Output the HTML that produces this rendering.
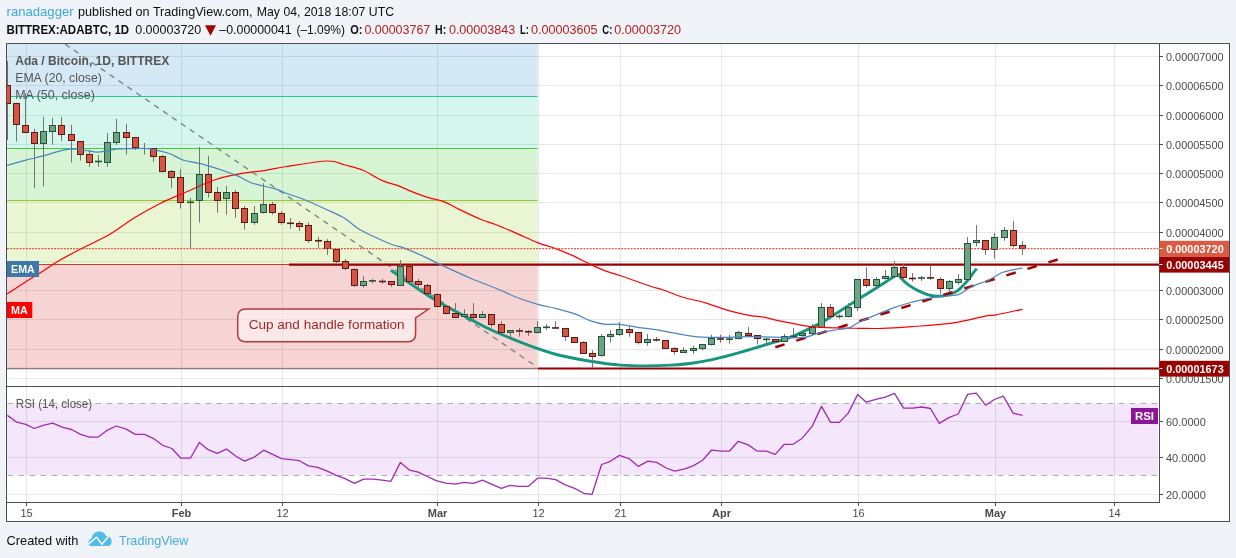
<!DOCTYPE html><html><head><meta charset="utf-8"><title>ADABTC chart</title><style>html,body{margin:0;padding:0;background:#f0f3f7;}svg{display:block}text{font-family:"Liberation Sans", Arial, sans-serif;}</style></head><body>
<svg width="1236" height="558" viewBox="0 0 1236 558">
<rect x="0" y="0" width="1236" height="558" fill="#f0f3f7"/>
<text x="6.6" y="15.7" font-size="13.3" fill="#3ca6df" font-weight="normal" text-anchor="start" textLength="67.0" lengthAdjust="spacingAndGlyphs">ranadagger</text>
<text x="78.1" y="15.7" font-size="13.3" fill="#0e0e0e" font-weight="normal" text-anchor="start" textLength="174.3" lengthAdjust="spacingAndGlyphs">published on TradingView.com,</text>
<text x="256.8" y="15.7" font-size="13.0" fill="#0e0e0e" font-weight="normal" text-anchor="start" textLength="137.2" lengthAdjust="spacingAndGlyphs">May 04, 2018 18:07 UTC</text>
<text x="6.6" y="33.7" font-size="12.4" fill="#0e0e0e" font-weight="bold" text-anchor="start" textLength="122.5" lengthAdjust="spacingAndGlyphs">BITTREX:ADABTC, 1D</text>
<text x="135.2" y="33.7" font-size="12.6" fill="#0e0e0e" font-weight="normal" text-anchor="start" textLength="66.1" lengthAdjust="spacingAndGlyphs">0.00003720</text>
<polygon points="205,25.2 216,25.2 210.5,35.8" fill="#a30000"/>
<text x="219.3" y="33.7" font-size="12.6" fill="#0e0e0e" font-weight="normal" text-anchor="start" textLength="72.3" lengthAdjust="spacingAndGlyphs">–0.00000041</text>
<text x="296.4" y="33.7" font-size="12.6" fill="#0e0e0e" font-weight="normal" text-anchor="start" textLength="48.6" lengthAdjust="spacingAndGlyphs">(–1.09%)</text>
<text x="350.2" y="33.7" font-size="12.4" fill="#0e0e0e" font-weight="bold" text-anchor="start" textLength="12.2" lengthAdjust="spacingAndGlyphs">O:</text>
<text x="364.4" y="33.7" font-size="12.6" fill="#b3221f" font-weight="normal" text-anchor="start" textLength="65.9" lengthAdjust="spacingAndGlyphs">0.00003767</text>
<text x="435.1" y="33.7" font-size="12.4" fill="#0e0e0e" font-weight="bold" text-anchor="start" textLength="11.2" lengthAdjust="spacingAndGlyphs">H:</text>
<text x="448.9" y="33.7" font-size="12.6" fill="#b3221f" font-weight="normal" text-anchor="start" textLength="66.4" lengthAdjust="spacingAndGlyphs">0.00003843</text>
<text x="520.1" y="33.7" font-size="12.4" fill="#0e0e0e" font-weight="bold" text-anchor="start" textLength="8.8" lengthAdjust="spacingAndGlyphs">L:</text>
<text x="531.1" y="33.7" font-size="12.6" fill="#b3221f" font-weight="normal" text-anchor="start" textLength="66.4" lengthAdjust="spacingAndGlyphs">0.00003605</text>
<text x="602.3" y="33.7" font-size="12.4" fill="#0e0e0e" font-weight="bold" text-anchor="start" textLength="10.1" lengthAdjust="spacingAndGlyphs">C:</text>
<text x="614.3" y="33.7" font-size="12.6" fill="#b3221f" font-weight="normal" text-anchor="start" textLength="66.7" lengthAdjust="spacingAndGlyphs">0.00003720</text>
<rect x="5.5" y="42.5" width="1225" height="480" fill="none" stroke="rgba(255,255,255,0.45)" stroke-width="1"/>
<rect x="6" y="43" width="1224" height="479" fill="#ffffff"/>
<defs><clipPath id="pp"><rect x="7" y="44" width="1152" height="342"/></clipPath><clipPath id="rp"><rect x="7" y="387" width="1152" height="115"/></clipPath></defs>
<path d="M26.5,44V386M26.5,387V502M181.5,44V386M181.5,387V502M282.5,44V386M282.5,387V502M437.5,44V386M437.5,387V502M538.5,44V386M538.5,387V502M620.5,44V386M620.5,387V502M721.5,44V386M721.5,387V502M858.5,44V386M858.5,387V502M995.5,44V386M995.5,387V502M1114.5,44V386M1114.5,387V502M7,378.5H1159M7,349.5H1159M7,319.5H1159M7,290.5H1159M7,261.5H1159M7,232.5H1159M7,202.5H1159M7,173.5H1159M7,144.5H1159M7,115.5H1159M7,85.5H1159M7,56.5H1159M7,494.5H1159M7,457.5H1159M7,421.5H1159" stroke="#e6e6e6" stroke-width="1" fill="none"/>
<g clip-path="url(#pp)">
<rect x="7" y="20" width="530.6" height="76.5" fill="rgba(40,145,205,0.20)"/>
<rect x="7" y="96.5" width="530.6" height="51.900000000000006" fill="rgba(28,206,154,0.19)"/>
<rect x="7" y="148.4" width="530.6" height="52.0" fill="rgba(53,204,40,0.20)"/>
<rect x="7" y="200.4" width="530.6" height="63.79999999999998" fill="rgba(149,204,40,0.20)"/>
<rect x="7" y="264.2" width="530.6" height="103.30000000000001" fill="rgba(214,60,60,0.22)"/>
<path d="M7,96.5H537.6" stroke="#2ec39a" stroke-width="1"/>
<path d="M7,148.5H537.6" stroke="#3ccc3c" stroke-width="1"/>
<path d="M7,200.5H537.6" stroke="#8fcc2a" stroke-width="1"/>
<path d="M7,264.5H537.6" stroke="#cc3a2a" stroke-width="1"/>
<path d="M7,368.5H538" stroke="#d06060" stroke-width="1.7"/>
<path d="M7,368.5H538" stroke="#808080" stroke-width="1"/>
<path d="M65,44L537,367" stroke="#7d7d7d" stroke-width="1.3" stroke-dasharray="5.6,5.2" fill="none"/>
</g>
<g clip-path="url(#pp)">
<path d="M289,264.6H1159" stroke="#9b0000" stroke-width="2.2"/>
<path d="M538,368.6H1159" stroke="#9b0000" stroke-width="2"/>
</g>
<path d="M245.7,309.1H428.7L415.6,318V333.8Q415.6,341.8 407.6,341.8H245.7Q237.7,341.8 237.7,333.8V317.1Q237.7,309.1 245.7,309.1Z" fill="rgba(255,248,248,0.55)" stroke="#b23c3c" stroke-width="1.5"/>
<text x="248.7" y="328.7" font-size="13.5" fill="#a32a2a" font-weight="normal" text-anchor="start" textLength="155.9" lengthAdjust="spacingAndGlyphs">Cup and handle formation</text>
<g clip-path="url(#pp)">
<path d="M391,270.2C393.6,272.0 401.7,277.8 406.5,281.1C411.3,284.4 415.5,287.2 420.0,290.2C424.5,293.1 429.2,296.2 433.4,298.8C437.6,301.4 440.7,303.3 445.2,305.8C449.7,308.3 453.6,310.4 460.3,313.9C467.0,317.4 477.2,323.1 485.1,327.0C493.0,330.9 498.9,333.4 507.7,337.0C516.5,340.6 529.0,345.5 537.8,348.6C546.6,351.7 551.6,353.4 560.4,355.5C569.2,357.6 580.5,359.6 590.5,361.2C600.5,362.8 611.4,364.3 620.7,365.1C630.1,365.9 638.2,365.9 646.6,365.9C655.0,365.9 662.8,365.6 670.9,365.1C679.0,364.6 687.1,363.9 695.2,362.7C703.3,361.5 711.3,359.7 719.4,357.8C727.5,355.9 735.6,353.6 743.7,351.3C751.8,349.0 762.1,345.8 768.0,344.0C773.9,342.2 775.2,342.1 779.3,340.8C783.4,339.6 786.2,339.1 792.4,336.5C798.6,333.9 811.3,327.7 816.6,325.1C821.9,322.5 818.3,324.6 824.3,320.9C830.2,317.2 844.9,307.8 852.3,303.1C859.6,298.4 863.0,296.3 868.4,292.9C873.8,289.5 879.5,285.9 884.5,282.7C889.5,279.5 896.2,275.3 898.5,273.8" fill="none" stroke="#15967e" stroke-width="2.9" stroke-linecap="butt"/>
<path d="M898.5,273.4C898.9,274.2 899.4,276.4 901.1,278.3C902.8,280.2 905.9,283.0 908.8,285.1C911.7,287.2 915.2,289.3 918.5,290.9C921.8,292.5 925.0,293.9 928.3,294.8C931.5,295.7 934.8,296.3 938.0,296.3C941.2,296.3 944.5,295.7 947.7,294.8C950.9,293.9 954.2,293.2 957.4,290.9C960.6,288.6 964.5,284.1 967.1,281.2C969.7,278.3 971.3,275.5 972.9,273.4C974.5,271.3 976.1,269.4 976.8,268.6" fill="none" stroke="#15967e" stroke-width="2.9" stroke-linecap="butt"/>
<path d="M775.3,347.2L1057.9,259.4" stroke="#a30000" stroke-width="2.5" stroke-dasharray="9.7,12.3" fill="none"/>
</g>
<g clip-path="url(#pp)">
<path d="M7.5,61.0V140.0" stroke="#737375" stroke-width="1"/>
<path d="M16.5,102.6V141.7" stroke="#737375" stroke-width="1"/>
<path d="M25.5,93.5V133.4" stroke="#737375" stroke-width="1"/>
<path d="M34.5,128.9V188.0" stroke="#737375" stroke-width="1"/>
<path d="M43.5,116.9V186.5" stroke="#737375" stroke-width="1"/>
<path d="M52.5,117.9V144.7" stroke="#737375" stroke-width="1"/>
<path d="M61.5,116.9V140.9" stroke="#737375" stroke-width="1"/>
<path d="M71.5,124.8V162.5" stroke="#737375" stroke-width="1"/>
<path d="M80.5,141.4V160.5" stroke="#737375" stroke-width="1"/>
<path d="M89.5,150.0V166.8" stroke="#737375" stroke-width="1"/>
<path d="M98.5,155.0V166.8" stroke="#737375" stroke-width="1"/>
<path d="M107.5,133.0V166.8" stroke="#737375" stroke-width="1"/>
<path d="M116.5,118.8V145.0" stroke="#737375" stroke-width="1"/>
<path d="M126.5,123.9V154.7" stroke="#737375" stroke-width="1"/>
<path d="M135.5,137.2V150.0" stroke="#737375" stroke-width="1"/>
<path d="M144.5,143.0V154.6" stroke="#737375" stroke-width="1"/>
<path d="M153.5,148.4V161.9" stroke="#737375" stroke-width="1"/>
<path d="M162.5,155.0V172.4" stroke="#737375" stroke-width="1"/>
<path d="M171.5,170.1V187.9" stroke="#737375" stroke-width="1"/>
<path d="M180.5,169.3V208.5" stroke="#737375" stroke-width="1"/>
<path d="M190.5,198.0V248.2" stroke="#737375" stroke-width="1"/>
<path d="M199.5,146.8V222.6" stroke="#737375" stroke-width="1"/>
<path d="M208.5,155.8V197.6" stroke="#737375" stroke-width="1"/>
<path d="M217.5,187.0V212.8" stroke="#737375" stroke-width="1"/>
<path d="M226.5,185.9V214.7" stroke="#737375" stroke-width="1"/>
<path d="M235.5,190.1V217.9" stroke="#737375" stroke-width="1"/>
<path d="M244.5,206.1V229.6" stroke="#737375" stroke-width="1"/>
<path d="M254.5,206.0V224.8" stroke="#737375" stroke-width="1"/>
<path d="M263.5,183.3V213.7" stroke="#737375" stroke-width="1"/>
<path d="M272.5,202.0V214.7" stroke="#737375" stroke-width="1"/>
<path d="M281.5,211.1V224.8" stroke="#737375" stroke-width="1"/>
<path d="M290.5,218.0V228.9" stroke="#737375" stroke-width="1"/>
<path d="M299.5,221.0V230.9" stroke="#737375" stroke-width="1"/>
<path d="M308.5,222.3V242.9" stroke="#737375" stroke-width="1"/>
<path d="M318.5,236.9V247.9" stroke="#737375" stroke-width="1"/>
<path d="M327.5,239.2V254.9" stroke="#737375" stroke-width="1"/>
<path d="M336.5,249.3V262.9" stroke="#737375" stroke-width="1"/>
<path d="M345.5,259.0V270.3" stroke="#737375" stroke-width="1"/>
<path d="M354.5,268.4V286.9" stroke="#737375" stroke-width="1"/>
<path d="M363.5,275.9V287.6" stroke="#737375" stroke-width="1"/>
<path d="M372.5,278.9V283.4" stroke="#737375" stroke-width="1"/>
<path d="M382.5,278.9V283.9" stroke="#737375" stroke-width="1"/>
<path d="M391.5,281.2V286.9" stroke="#737375" stroke-width="1"/>
<path d="M400.5,260.1V285.7" stroke="#737375" stroke-width="1"/>
<path d="M409.5,266.1V281.5" stroke="#737375" stroke-width="1"/>
<path d="M418.5,278.9V289.4" stroke="#737375" stroke-width="1"/>
<path d="M427.5,283.9V294.4" stroke="#737375" stroke-width="1"/>
<path d="M437.5,293.2V307.5" stroke="#737375" stroke-width="1"/>
<path d="M446.5,306.4V314.5" stroke="#737375" stroke-width="1"/>
<path d="M455.5,303.1V317.5" stroke="#737375" stroke-width="1"/>
<path d="M464.5,309.1V317.3" stroke="#737375" stroke-width="1"/>
<path d="M473.5,303.1V319.3" stroke="#737375" stroke-width="1"/>
<path d="M482.5,311.0V317.5" stroke="#737375" stroke-width="1"/>
<path d="M491.5,314.1V327.3" stroke="#737375" stroke-width="1"/>
<path d="M501.5,321.2V332.6" stroke="#737375" stroke-width="1"/>
<path d="M510.5,330.2V337.4" stroke="#737375" stroke-width="1"/>
<path d="M519.5,328.1V336.7" stroke="#737375" stroke-width="1"/>
<path d="M528.5,329.9V335.9" stroke="#737375" stroke-width="1"/>
<path d="M537.5,321.2V333.6" stroke="#737375" stroke-width="1"/>
<path d="M546.5,324.2V329.9" stroke="#737375" stroke-width="1"/>
<path d="M555.5,321.2V328.7" stroke="#737375" stroke-width="1"/>
<path d="M565.5,328.1V340.9" stroke="#737375" stroke-width="1"/>
<path d="M574.5,337.4V342.7" stroke="#737375" stroke-width="1"/>
<path d="M583.5,341.2V353.5" stroke="#737375" stroke-width="1"/>
<path d="M592.5,350.2V368.0" stroke="#737375" stroke-width="1"/>
<path d="M601.5,334.1V356.4" stroke="#737375" stroke-width="1"/>
<path d="M610.5,330.2V342.7" stroke="#737375" stroke-width="1"/>
<path d="M619.5,322.1V335.6" stroke="#737375" stroke-width="1"/>
<path d="M629.5,325.7V336.7" stroke="#737375" stroke-width="1"/>
<path d="M638.5,332.4V344.5" stroke="#737375" stroke-width="1"/>
<path d="M647.5,334.1V345.7" stroke="#737375" stroke-width="1"/>
<path d="M656.5,337.1V341.5" stroke="#737375" stroke-width="1"/>
<path d="M665.5,340.4V348.7" stroke="#737375" stroke-width="1"/>
<path d="M674.5,347.2V354.7" stroke="#737375" stroke-width="1"/>
<path d="M683.5,347.2V352.5" stroke="#737375" stroke-width="1"/>
<path d="M693.5,346.0V353.7" stroke="#737375" stroke-width="1"/>
<path d="M702.5,344.2V350.6" stroke="#737375" stroke-width="1"/>
<path d="M711.5,334.8V345.7" stroke="#737375" stroke-width="1"/>
<path d="M720.5,334.8V342.7" stroke="#737375" stroke-width="1"/>
<path d="M729.5,334.8V343.7" stroke="#737375" stroke-width="1"/>
<path d="M738.5,330.9V339.4" stroke="#737375" stroke-width="1"/>
<path d="M748.5,326.9V337.4" stroke="#737375" stroke-width="1"/>
<path d="M757.5,335.1V344.5" stroke="#737375" stroke-width="1"/>
<path d="M766.5,337.1V343.7" stroke="#737375" stroke-width="1"/>
<path d="M775.5,339.2V341.7" stroke="#737375" stroke-width="1"/>
<path d="M784.5,334.0V341.7" stroke="#737375" stroke-width="1"/>
<path d="M793.5,327.9V338.8" stroke="#737375" stroke-width="1"/>
<path d="M802.5,331.1V336.8" stroke="#737375" stroke-width="1"/>
<path d="M812.5,324.0V335.6" stroke="#737375" stroke-width="1"/>
<path d="M821.5,303.1V327.5" stroke="#737375" stroke-width="1"/>
<path d="M830.5,304.0V317.4" stroke="#737375" stroke-width="1"/>
<path d="M839.5,314.2V318.8" stroke="#737375" stroke-width="1"/>
<path d="M848.5,303.1V317.4" stroke="#737375" stroke-width="1"/>
<path d="M857.5,279.3V310.8" stroke="#737375" stroke-width="1"/>
<path d="M866.5,267.3V287.6" stroke="#737375" stroke-width="1"/>
<path d="M876.5,277.1V287.0" stroke="#737375" stroke-width="1"/>
<path d="M885.5,270.0V279.4" stroke="#737375" stroke-width="1"/>
<path d="M894.5,261.0V276.5" stroke="#737375" stroke-width="1"/>
<path d="M903.5,263.2V282.6" stroke="#737375" stroke-width="1"/>
<path d="M912.5,273.0V281.7" stroke="#737375" stroke-width="1"/>
<path d="M921.5,275.9V280.8" stroke="#737375" stroke-width="1"/>
<path d="M930.5,265.9V279.8" stroke="#737375" stroke-width="1"/>
<path d="M940.5,277.1V293.8" stroke="#737375" stroke-width="1"/>
<path d="M949.5,279.9V292.2" stroke="#737375" stroke-width="1"/>
<path d="M958.5,274.1V284.6" stroke="#737375" stroke-width="1"/>
<path d="M967.5,237.1V279.5" stroke="#737375" stroke-width="1"/>
<path d="M976.5,225.0V246.4" stroke="#737375" stroke-width="1"/>
<path d="M985.5,240.1V254.8" stroke="#737375" stroke-width="1"/>
<path d="M994.5,233.0V258.6" stroke="#737375" stroke-width="1"/>
<path d="M1004.5,227.0V240.9" stroke="#737375" stroke-width="1"/>
<path d="M1013.5,221.0V247.3" stroke="#737375" stroke-width="1"/>
<path d="M1022.5,241.2V254.8" stroke="#737375" stroke-width="1"/>
<rect x="4.5" y="85.5" width="6" height="18" fill="#d75442" stroke="#5b1a13" stroke-width="1"/>
<rect x="13.5" y="103.5" width="6" height="21" fill="#d75442" stroke="#5b1a13" stroke-width="1"/>
<rect x="22.5" y="125.5" width="6" height="7" fill="#d75442" stroke="#5b1a13" stroke-width="1"/>
<rect x="31.5" y="132.5" width="6" height="11" fill="#d75442" stroke="#5b1a13" stroke-width="1"/>
<rect x="40.5" y="131.5" width="6" height="12" fill="#6ba583" stroke="#225437" stroke-width="1"/>
<rect x="49.5" y="125.5" width="6" height="6" fill="#6ba583" stroke="#225437" stroke-width="1"/>
<rect x="58.5" y="125.5" width="6" height="9" fill="#d75442" stroke="#5b1a13" stroke-width="1"/>
<rect x="68.5" y="134.5" width="6" height="6" fill="#d75442" stroke="#5b1a13" stroke-width="1"/>
<rect x="77.5" y="141.5" width="6" height="13" fill="#d75442" stroke="#5b1a13" stroke-width="1"/>
<rect x="86.5" y="154.5" width="6" height="8" fill="#d75442" stroke="#5b1a13" stroke-width="1"/>
<rect x="95" y="160.70" width="7" height="1.60" fill="#225437"/>
<rect x="104.5" y="142.5" width="6" height="20" fill="#6ba583" stroke="#225437" stroke-width="1"/>
<rect x="113.5" y="132.5" width="6" height="10" fill="#6ba583" stroke="#225437" stroke-width="1"/>
<rect x="123.5" y="132.5" width="6" height="5" fill="#d75442" stroke="#5b1a13" stroke-width="1"/>
<rect x="132.5" y="137.5" width="6" height="10" fill="#d75442" stroke="#5b1a13" stroke-width="1"/>
<rect x="150.5" y="148.5" width="6" height="8" fill="#d75442" stroke="#5b1a13" stroke-width="1"/>
<rect x="159.5" y="156.5" width="6" height="15" fill="#d75442" stroke="#5b1a13" stroke-width="1"/>
<rect x="168.5" y="171.5" width="6" height="6" fill="#d75442" stroke="#5b1a13" stroke-width="1"/>
<rect x="177.5" y="177.5" width="6" height="25" fill="#d75442" stroke="#5b1a13" stroke-width="1"/>
<rect x="187" y="201.50" width="7" height="1.60" fill="#225437"/>
<rect x="196.5" y="174.5" width="6" height="26" fill="#6ba583" stroke="#225437" stroke-width="1"/>
<rect x="205.5" y="174.5" width="6" height="18" fill="#d75442" stroke="#5b1a13" stroke-width="1"/>
<rect x="214.5" y="192.5" width="6" height="8" fill="#d75442" stroke="#5b1a13" stroke-width="1"/>
<rect x="223.5" y="192.5" width="6" height="6" fill="#6ba583" stroke="#225437" stroke-width="1"/>
<rect x="232.5" y="192.5" width="6" height="16" fill="#d75442" stroke="#5b1a13" stroke-width="1"/>
<rect x="241.5" y="208.5" width="6" height="14" fill="#d75442" stroke="#5b1a13" stroke-width="1"/>
<rect x="251.5" y="213.5" width="6" height="9" fill="#6ba583" stroke="#225437" stroke-width="1"/>
<rect x="260.5" y="204.5" width="6" height="8" fill="#6ba583" stroke="#225437" stroke-width="1"/>
<rect x="269.5" y="204.5" width="6" height="8" fill="#d75442" stroke="#5b1a13" stroke-width="1"/>
<rect x="278.5" y="213.5" width="6" height="9" fill="#d75442" stroke="#5b1a13" stroke-width="1"/>
<rect x="287" y="222.50" width="7" height="1.60" fill="#5b1a13"/>
<rect x="296.5" y="223.5" width="6" height="3" fill="#d75442" stroke="#5b1a13" stroke-width="1"/>
<rect x="305.5" y="225.5" width="6" height="15" fill="#d75442" stroke="#5b1a13" stroke-width="1"/>
<rect x="315" y="239.95" width="7" height="1.60" fill="#5b1a13"/>
<rect x="324.5" y="241.5" width="6" height="7" fill="#d75442" stroke="#5b1a13" stroke-width="1"/>
<rect x="333.5" y="249.5" width="6" height="12" fill="#d75442" stroke="#5b1a13" stroke-width="1"/>
<rect x="342.5" y="261.5" width="6" height="7" fill="#d75442" stroke="#5b1a13" stroke-width="1"/>
<rect x="351.5" y="269.5" width="6" height="16" fill="#d75442" stroke="#5b1a13" stroke-width="1"/>
<rect x="360.5" y="281.5" width="6" height="4" fill="#6ba583" stroke="#225437" stroke-width="1"/>
<rect x="369" y="280.05" width="7" height="1.60" fill="#225437"/>
<rect x="379" y="280.70" width="7" height="1.60" fill="#5b1a13"/>
<rect x="388.5" y="281.5" width="6" height="3" fill="#d75442" stroke="#5b1a13" stroke-width="1"/>
<rect x="397.5" y="266.5" width="6" height="19" fill="#6ba583" stroke="#225437" stroke-width="1"/>
<rect x="406.5" y="266.5" width="6" height="15" fill="#d75442" stroke="#5b1a13" stroke-width="1"/>
<rect x="415.5" y="281.5" width="6" height="3" fill="#d75442" stroke="#5b1a13" stroke-width="1"/>
<rect x="424.5" y="285.5" width="6" height="8" fill="#d75442" stroke="#5b1a13" stroke-width="1"/>
<rect x="434.5" y="294.5" width="6" height="12" fill="#d75442" stroke="#5b1a13" stroke-width="1"/>
<rect x="443.5" y="306.5" width="6" height="7" fill="#d75442" stroke="#5b1a13" stroke-width="1"/>
<rect x="452.5" y="313.5" width="6" height="4" fill="#d75442" stroke="#5b1a13" stroke-width="1"/>
<rect x="461.5" y="314.5" width="6" height="2" fill="#6ba583" stroke="#225437" stroke-width="1"/>
<rect x="470.5" y="314.5" width="6" height="3" fill="#d75442" stroke="#5b1a13" stroke-width="1"/>
<rect x="479.5" y="314.5" width="6" height="3" fill="#6ba583" stroke="#225437" stroke-width="1"/>
<rect x="488.5" y="314.5" width="6" height="10" fill="#d75442" stroke="#5b1a13" stroke-width="1"/>
<rect x="498.5" y="324.5" width="6" height="8" fill="#d75442" stroke="#5b1a13" stroke-width="1"/>
<rect x="507.5" y="330.5" width="6" height="2" fill="#6ba583" stroke="#225437" stroke-width="1"/>
<rect x="516" y="330.15" width="7" height="1.60" fill="#5b1a13"/>
<rect x="525" y="330.90" width="7" height="1.70" fill="#5b1a13"/>
<rect x="534.5" y="327.5" width="6" height="5" fill="#6ba583" stroke="#225437" stroke-width="1"/>
<rect x="543" y="326.50" width="7" height="1.60" fill="#225437"/>
<rect x="552" y="327.15" width="7" height="1.60" fill="#5b1a13"/>
<rect x="562.5" y="328.5" width="6" height="8" fill="#d75442" stroke="#5b1a13" stroke-width="1"/>
<rect x="571.5" y="337.5" width="6" height="5" fill="#d75442" stroke="#5b1a13" stroke-width="1"/>
<rect x="580.5" y="342.5" width="6" height="11" fill="#d75442" stroke="#5b1a13" stroke-width="1"/>
<rect x="589.5" y="353.5" width="6" height="3" fill="#d75442" stroke="#5b1a13" stroke-width="1"/>
<rect x="598.5" y="336.5" width="6" height="19" fill="#6ba583" stroke="#225437" stroke-width="1"/>
<rect x="607.5" y="334.5" width="6" height="2" fill="#6ba583" stroke="#225437" stroke-width="1"/>
<rect x="616.5" y="329.5" width="6" height="5" fill="#6ba583" stroke="#225437" stroke-width="1"/>
<rect x="626.5" y="329.5" width="6" height="3" fill="#d75442" stroke="#5b1a13" stroke-width="1"/>
<rect x="635.5" y="332.5" width="6" height="10" fill="#d75442" stroke="#5b1a13" stroke-width="1"/>
<rect x="644.5" y="339.5" width="6" height="3" fill="#6ba583" stroke="#225437" stroke-width="1"/>
<rect x="653" y="339.15" width="7" height="1.60" fill="#5b1a13"/>
<rect x="662.5" y="340.5" width="6" height="8" fill="#d75442" stroke="#5b1a13" stroke-width="1"/>
<rect x="671.5" y="348.5" width="6" height="3" fill="#d75442" stroke="#5b1a13" stroke-width="1"/>
<rect x="680.5" y="350.5" width="6" height="2" fill="#6ba583" stroke="#225437" stroke-width="1"/>
<rect x="690.5" y="348.5" width="6" height="2" fill="#6ba583" stroke="#225437" stroke-width="1"/>
<rect x="699.5" y="344.5" width="6" height="4" fill="#6ba583" stroke="#225437" stroke-width="1"/>
<rect x="708.5" y="338.5" width="6" height="6" fill="#6ba583" stroke="#225437" stroke-width="1"/>
<rect x="717" y="338.15" width="7" height="1.60" fill="#5b1a13"/>
<rect x="726" y="338.40" width="7" height="1.60" fill="#225437"/>
<rect x="735.5" y="332.5" width="6" height="6" fill="#6ba583" stroke="#225437" stroke-width="1"/>
<rect x="745.5" y="333.5" width="6" height="2" fill="#d75442" stroke="#5b1a13" stroke-width="1"/>
<rect x="754.5" y="335.5" width="6" height="3" fill="#d75442" stroke="#5b1a13" stroke-width="1"/>
<rect x="763" y="338.60" width="7" height="1.60" fill="#225437"/>
<rect x="772.5" y="339.5" width="6" height="2" fill="#d75442" stroke="#5b1a13" stroke-width="1"/>
<rect x="781.5" y="336.5" width="6" height="5" fill="#6ba583" stroke="#225437" stroke-width="1"/>
<rect x="790" y="335.60" width="7" height="1.60" fill="#225437"/>
<rect x="799.5" y="333.5" width="6" height="2" fill="#6ba583" stroke="#225437" stroke-width="1"/>
<rect x="809.5" y="327.5" width="6" height="6" fill="#6ba583" stroke="#225437" stroke-width="1"/>
<rect x="818.5" y="307.5" width="6" height="20" fill="#6ba583" stroke="#225437" stroke-width="1"/>
<rect x="827.5" y="307.5" width="6" height="9" fill="#d75442" stroke="#5b1a13" stroke-width="1"/>
<rect x="836" y="315.60" width="7" height="1.60" fill="#225437"/>
<rect x="845.5" y="307.5" width="6" height="9" fill="#6ba583" stroke="#225437" stroke-width="1"/>
<rect x="854.5" y="279.5" width="6" height="28" fill="#6ba583" stroke="#225437" stroke-width="1"/>
<rect x="863.5" y="279.5" width="6" height="6" fill="#d75442" stroke="#5b1a13" stroke-width="1"/>
<rect x="873.5" y="279.5" width="6" height="6" fill="#6ba583" stroke="#225437" stroke-width="1"/>
<rect x="882.5" y="276.5" width="6" height="2" fill="#6ba583" stroke="#225437" stroke-width="1"/>
<rect x="891.5" y="267.5" width="6" height="9" fill="#6ba583" stroke="#225437" stroke-width="1"/>
<rect x="900.5" y="267.5" width="6" height="10" fill="#d75442" stroke="#5b1a13" stroke-width="1"/>
<rect x="909" y="277.70" width="7" height="1.60" fill="#5b1a13"/>
<rect x="918" y="277.20" width="7" height="1.60" fill="#225437"/>
<rect x="927" y="277.10" width="7" height="1.60" fill="#5b1a13"/>
<rect x="937.5" y="279.5" width="6" height="9" fill="#d75442" stroke="#5b1a13" stroke-width="1"/>
<rect x="946.5" y="281.5" width="6" height="7" fill="#6ba583" stroke="#225437" stroke-width="1"/>
<rect x="955.5" y="279.5" width="6" height="3" fill="#6ba583" stroke="#225437" stroke-width="1"/>
<rect x="964.5" y="243.5" width="6" height="36" fill="#6ba583" stroke="#225437" stroke-width="1"/>
<rect x="973.5" y="240.5" width="6" height="2" fill="#6ba583" stroke="#225437" stroke-width="1"/>
<rect x="982.5" y="240.5" width="6" height="9" fill="#d75442" stroke="#5b1a13" stroke-width="1"/>
<rect x="991.5" y="237.5" width="6" height="12" fill="#6ba583" stroke="#225437" stroke-width="1"/>
<rect x="1001.5" y="230.5" width="6" height="7" fill="#6ba583" stroke="#225437" stroke-width="1"/>
<rect x="1010.5" y="230.5" width="6" height="15" fill="#d75442" stroke="#5b1a13" stroke-width="1"/>
<rect x="1019.5" y="245.5" width="6" height="3" fill="#d75442" stroke="#5b1a13" stroke-width="1"/>
</g>
<g clip-path="url(#pp)">
<path d="M7.2,294C10.2,292.0 19.6,285.7 25.1,282.2C30.6,278.7 34.1,276.7 40.0,273.0C45.9,269.3 53.0,264.2 60.2,260.0C67.4,255.8 75.1,251.9 83.2,247.7C91.3,243.5 100.4,239.8 109.0,234.8C117.6,229.8 126.2,222.9 134.8,217.6C143.4,212.3 152.5,207.3 160.6,203.2C168.7,199.1 174.4,197.1 183.5,193.2C192.6,189.3 205.0,183.0 215.1,179.7C225.2,176.3 235.7,174.6 243.8,173.1C252.0,171.6 256.8,171.7 264.0,170.6C271.2,169.5 276.3,168.1 286.8,166.5C297.3,164.9 317.3,161.2 327.0,161.0C336.7,160.8 339.0,163.4 345.0,165.0C351.0,166.6 357.1,167.8 363.1,170.3C369.1,172.8 375.2,177.5 381.2,180.1C387.2,182.7 394.2,184.2 399.2,186.1C404.2,188.0 406.5,189.5 411.3,191.4C416.1,193.3 422.3,195.7 427.8,197.4C433.3,199.2 439.4,200.0 444.4,201.9C449.4,203.8 451.9,205.8 457.9,208.7C463.9,211.6 474.2,216.6 480.5,219.2C486.8,221.8 489.6,222.2 495.5,224.5C501.4,226.8 509.0,230.1 516.0,233.1C523.0,236.1 531.0,240.0 537.6,242.6C544.2,245.2 549.9,246.5 555.7,248.6C561.5,250.7 566.4,252.8 572.2,255.4C578.0,258.0 584.8,261.8 590.3,264.4C595.8,267.0 600.3,269.0 605.3,270.9C610.3,272.8 612.9,273.1 620.4,275.7C627.9,278.2 643.4,283.8 650.5,286.2C657.6,288.6 657.8,288.2 663.2,290.0C668.6,291.8 675.8,295.1 682.8,297.2C689.8,299.3 697.8,300.6 705.3,302.8C712.8,305.0 720.4,308.2 727.9,310.3C735.4,312.4 745.1,314.6 750.5,315.6C755.9,316.7 754.4,315.6 760.0,316.6C765.6,317.6 776.2,320.2 784.3,321.8C792.4,323.4 799.7,325.3 808.5,326.3C817.3,327.3 828.3,327.6 836.9,327.9C845.5,328.2 852.3,328.2 860.0,328.3C867.7,328.4 872.8,328.7 882.9,328.3C893.0,327.9 911.0,326.6 920.5,326.0C930.0,325.4 933.7,325.0 940.0,324.4C946.3,323.8 950.6,323.5 958.1,322.1C965.6,320.7 978.8,317.3 985.1,316.1C991.4,314.9 989.5,316.0 995.7,314.9C1001.9,313.8 1018.0,310.2 1022.5,309.3" fill="none" stroke="#ff0000" stroke-width="1.2" stroke-linejoin="round"/>
<path d="M7.2,165.4C10.3,164.5 19.8,161.8 25.8,160.2C31.8,158.6 36.8,157.6 43.0,155.9C49.2,154.2 57.8,151.4 63.1,150.2C68.4,149.0 70.8,148.8 74.6,148.8C78.4,148.9 82.2,149.9 86.0,150.5C89.8,151.1 93.7,152.2 97.5,152.2C101.3,152.2 105.2,150.9 109.0,150.3C112.8,149.7 114.7,149.1 120.4,148.8C126.1,148.5 138.5,148.3 143.4,148.3C148.3,148.3 147.6,148.5 150.0,148.8C152.4,149.2 154.3,149.6 157.6,150.4C160.9,151.2 165.7,152.2 170.0,153.8C174.3,155.4 178.4,158.5 183.5,160.2C188.6,161.8 193.5,161.8 200.7,163.7C207.9,165.6 220.0,169.5 226.6,171.7C233.2,173.9 235.7,175.1 240.0,177.0C244.3,178.9 246.5,181.2 252.4,183.2C258.3,185.2 269.7,187.2 275.3,188.9C280.9,190.6 281.1,191.4 286.0,193.2C290.9,195.0 297.7,196.9 304.5,199.7C311.3,202.4 320.2,206.6 327.0,209.7C333.8,212.8 339.4,215.1 345.0,218.5C350.6,221.9 353.0,225.8 360.6,230.0C368.2,234.2 383.4,241.0 390.7,244.0C398.0,247.0 398.5,245.9 404.3,248.1C410.1,250.3 419.5,254.5 425.3,257.1C431.1,259.7 431.4,260.4 438.9,263.9C446.4,267.4 460.3,273.8 470.5,278.2C480.7,282.6 492.6,286.9 500.0,290.0C507.4,293.1 508.7,294.3 515.0,296.7C521.3,299.1 530.7,302.3 537.8,304.3C544.9,306.3 551.1,307.2 557.4,308.8C563.7,310.4 569.9,312.1 575.4,314.1C580.9,316.1 585.5,319.2 590.5,320.9C595.5,322.6 600.6,323.7 605.5,324.3C610.4,324.9 614.2,323.8 619.6,324.3C625.0,324.8 630.8,326.3 637.6,327.3C644.4,328.3 650.9,328.8 660.2,330.3C669.5,331.8 683.3,335.2 693.3,336.4C703.3,337.6 710.9,337.3 720.4,337.4C729.9,337.4 739.6,336.7 750.5,336.7C761.4,336.7 777.0,337.3 786.0,337.4C795.0,337.5 799.4,338.0 804.5,337.4C809.6,336.8 811.9,334.8 816.6,333.6C821.3,332.4 827.4,331.2 832.8,330.3C838.2,329.4 844.5,329.3 849.0,327.9C853.5,326.5 852.6,325.1 860.0,321.8C867.4,318.5 884.6,311.2 893.4,307.9C902.2,304.6 906.0,303.7 913.0,301.9C920.0,300.1 928.0,298.3 935.5,297.1C943.0,295.9 952.2,296.2 958.0,294.6C963.8,293.0 965.5,289.7 970.0,287.5C974.5,285.3 981.6,282.9 985.0,281.5C988.4,280.1 987.3,280.7 990.2,279.2C993.1,277.7 998.7,274.0 1002.2,272.5C1005.7,271.0 1007.9,271.0 1011.3,270.2C1014.7,269.4 1020.6,268.3 1022.5,267.9" fill="none" stroke="#4a85c0" stroke-width="1.2" stroke-linejoin="round"/>
</g>
<g clip-path="url(#pp)">
<path d="M7,248.6H1159" stroke="#e34b30" stroke-width="1.3" stroke-dasharray="1.85,1.3"/>
</g>
<text x="15.2" y="64.8" font-size="13.5" fill="#555555" font-weight="bold" text-anchor="start" textLength="154.1" lengthAdjust="spacingAndGlyphs">Ada / Bitcoin, 1D, BITTREX</text>
<text x="15.2" y="82.0" font-size="13.5" fill="#555555" font-weight="normal" text-anchor="start" textLength="86.7" lengthAdjust="spacingAndGlyphs">EMA (20, close)</text>
<text x="15.2" y="99.4" font-size="13.5" fill="#555555" font-weight="normal" text-anchor="start" textLength="79.6" lengthAdjust="spacingAndGlyphs">MA (50, close)</text>
<rect x="7" y="261" width="32" height="16" fill="#3c78aa"/>
<text x="11.1" y="273" font-size="11" fill="#ffffff" font-weight="bold" text-anchor="start" textLength="23.7" lengthAdjust="spacingAndGlyphs">EMA</text>
<rect x="7" y="302" width="25.3" height="16" fill="#ff0000"/>
<text x="11" y="314" font-size="11" fill="#ffffff" font-weight="bold" text-anchor="start" textLength="16.7" lengthAdjust="spacingAndGlyphs">MA</text>
<g clip-path="url(#rp)">
<rect x="7" y="403.4" width="1151" height="72.0" fill="rgba(156,39,224,0.11)"/>
<path d="M7.6,403.5H1158M7.6,475.5H1158" stroke="#ababab" stroke-width="1" stroke-dasharray="5.5,5.5"/>
<polyline points="7.4,415.4 16.8,422.2 25.7,424.3 34.3,428.5 43.1,425.3 52.6,423.2 62.1,427.2 71.5,429.5 80.6,434.4 89.4,437.1 98.2,437.1 107.3,430.2 116.3,426.0 126.2,429.1 135.3,434.4 144.5,434.4 153.6,438.6 162.6,445.3 171.9,448.5 180.9,458.2 190.4,458.2 199.4,442.4 208.2,449.7 217.3,453.3 226.5,449.1 235.6,456.0 244.4,461.1 254.2,457.1 263.7,450.2 272.7,454.4 281.6,458.6 291.0,459.6 299.4,460.7 308.5,465.9 317.7,467.4 326.8,470.8 336.2,475.4 345.1,478.6 354.5,483.4 363.6,479.2 373.1,479.2 382.1,480.2 390.9,481.3 400.4,462.4 409.4,470.1 418.3,472.2 427.3,476.5 436.2,480.7 445.6,483.2 455.1,484.2 464.1,482.3 473.4,483.4 482.4,480.2 491.9,484.4 501.4,488.4 510.1,485.3 518.9,486.3 528.4,486.3 537.9,478.1 545.9,478.1 555.7,479.6 565.2,484.9 574.7,488.4 583.7,493.3 592.1,494.3 601.6,464.5 610.4,461.3 619.5,455.4 628.9,458.6 638.4,466.4 647.9,461.1 656.7,462.4 666.2,468.0 674.6,471.2 684.1,469.1 693.1,465.9 702.6,460.3 711.4,450.2 720.9,451.2 729.3,451.2 738.3,441.3 748.2,444.9 757.4,451.2 766.4,451.2 775.2,454.4 784.3,444.3 793.1,444.3 802.2,438.2 812.1,426.4 821.5,406.4 830.6,422.4 839.4,422.4 848.4,412.9 857.7,394.4 866.3,402.2 875.8,399.3 885.3,397.1 894.5,393.4 903.6,408.1 912.6,408.1 921.9,407.0 930.5,408.5 939.3,423.4 948.8,417.6 958.2,414.0 967.6,394.4 976.3,393.2 985.6,405.2 994.4,399.5 1003.3,396.2 1013.1,413.1 1022.6,415.4" fill="none" stroke="#a12ab5" stroke-width="1.3" stroke-linejoin="round"/>
</g>
<text x="15.8" y="407.6" font-size="13.5" fill="#555555" font-weight="normal" text-anchor="start" textLength="76.3" lengthAdjust="spacingAndGlyphs">RSI (14, close)</text>
<rect x="1131" y="408" width="27" height="16" fill="#8e1599"/>
<text x="1135" y="420.3" font-size="11" fill="#ffffff" font-weight="bold" text-anchor="start" textLength="19.0" lengthAdjust="spacingAndGlyphs">RSI</text>
<path d="M1159.5,43V503M6,386.5H1159M6,502.5H1159" stroke="#4d4d4d" stroke-width="1" fill="none"/>
<rect x="6.5" y="43.5" width="1223" height="478" fill="none" stroke="#4d4d4d" stroke-width="1"/>
<text x="1166" y="383" font-size="11" fill="#4a4a4a" font-weight="normal" text-anchor="start" textLength="57.5" lengthAdjust="spacingAndGlyphs">0.00001500</text>
<text x="1166" y="354" font-size="11" fill="#4a4a4a" font-weight="normal" text-anchor="start" textLength="57.5" lengthAdjust="spacingAndGlyphs">0.00002000</text>
<text x="1166" y="324" font-size="11" fill="#4a4a4a" font-weight="normal" text-anchor="start" textLength="57.5" lengthAdjust="spacingAndGlyphs">0.00002500</text>
<text x="1166" y="295" font-size="11" fill="#4a4a4a" font-weight="normal" text-anchor="start" textLength="57.5" lengthAdjust="spacingAndGlyphs">0.00003000</text>
<text x="1166" y="266" font-size="11" fill="#4a4a4a" font-weight="normal" text-anchor="start" textLength="57.5" lengthAdjust="spacingAndGlyphs">0.00003500</text>
<text x="1166" y="237" font-size="11" fill="#4a4a4a" font-weight="normal" text-anchor="start" textLength="57.5" lengthAdjust="spacingAndGlyphs">0.00004000</text>
<text x="1166" y="207" font-size="11" fill="#4a4a4a" font-weight="normal" text-anchor="start" textLength="57.5" lengthAdjust="spacingAndGlyphs">0.00004500</text>
<text x="1166" y="178" font-size="11" fill="#4a4a4a" font-weight="normal" text-anchor="start" textLength="57.5" lengthAdjust="spacingAndGlyphs">0.00005000</text>
<text x="1166" y="149" font-size="11" fill="#4a4a4a" font-weight="normal" text-anchor="start" textLength="57.5" lengthAdjust="spacingAndGlyphs">0.00005500</text>
<text x="1166" y="120" font-size="11" fill="#4a4a4a" font-weight="normal" text-anchor="start" textLength="57.5" lengthAdjust="spacingAndGlyphs">0.00006000</text>
<text x="1166" y="90" font-size="11" fill="#4a4a4a" font-weight="normal" text-anchor="start" textLength="57.5" lengthAdjust="spacingAndGlyphs">0.00006500</text>
<text x="1166" y="61" font-size="11" fill="#4a4a4a" font-weight="normal" text-anchor="start" textLength="57.5" lengthAdjust="spacingAndGlyphs">0.00007000</text>
<text x="1166" y="498.5" font-size="11" fill="#4a4a4a" font-weight="normal" text-anchor="start">20.0000</text>
<text x="1166" y="461.5" font-size="11" fill="#4a4a4a" font-weight="normal" text-anchor="start">40.0000</text>
<text x="1166" y="425.5" font-size="11" fill="#4a4a4a" font-weight="normal" text-anchor="start">60.0000</text>
<path d="M1160,378.5h3M1160,349.5h3M1160,319.5h3M1160,290.5h3M1160,261.5h3M1160,232.5h3M1160,202.5h3M1160,173.5h3M1160,144.5h3M1160,115.5h3M1160,85.5h3M1160,56.5h3M1160,494.5h3M1160,457.5h3M1160,421.5h3" stroke="#4d4d4d" stroke-width="1"/>
<rect x="1159.5" y="240.8" width="69.5" height="16.0" fill="#db5a44"/>
<path d="M1159.5,248.5h3" stroke="#ffffff" stroke-width="1"/>
<text x="1166.2" y="253.3" font-size="11" fill="#ffffff" font-weight="bold" text-anchor="start" textLength="57.5" lengthAdjust="spacingAndGlyphs">0.00003720</text>
<rect x="1159.5" y="256.8" width="69.5" height="15.8" fill="#990000"/>
<path d="M1159.5,264.5h3" stroke="#ffffff" stroke-width="1"/>
<text x="1166.2" y="269.20000000000005" font-size="11" fill="#ffffff" font-weight="bold" text-anchor="start" textLength="57.5" lengthAdjust="spacingAndGlyphs">0.00003445</text>
<rect x="1159.5" y="360.8" width="69.5" height="15.8" fill="#990000"/>
<path d="M1159.5,368.5h3" stroke="#ffffff" stroke-width="1"/>
<text x="1166.2" y="373.20000000000005" font-size="11" fill="#ffffff" font-weight="bold" text-anchor="start" textLength="57.5" lengthAdjust="spacingAndGlyphs">0.00001673</text>
<text x="26.5" y="516.8" font-size="11" fill="#4a4a4a" font-weight="normal" text-anchor="middle">15</text>
<text x="181.5" y="516.8" font-size="11" fill="#4a4a4a" font-weight="bold" text-anchor="middle">Feb</text>
<text x="282.5" y="516.8" font-size="11" fill="#4a4a4a" font-weight="normal" text-anchor="middle">12</text>
<text x="437.5" y="516.8" font-size="11" fill="#4a4a4a" font-weight="bold" text-anchor="middle">Mar</text>
<text x="538.5" y="516.8" font-size="11" fill="#4a4a4a" font-weight="normal" text-anchor="middle">12</text>
<text x="620.5" y="516.8" font-size="11" fill="#4a4a4a" font-weight="normal" text-anchor="middle">21</text>
<text x="721.5" y="516.8" font-size="11" fill="#4a4a4a" font-weight="bold" text-anchor="middle">Apr</text>
<text x="858.5" y="516.8" font-size="11" fill="#4a4a4a" font-weight="normal" text-anchor="middle">16</text>
<text x="995.5" y="516.8" font-size="11" fill="#4a4a4a" font-weight="bold" text-anchor="middle">May</text>
<text x="1114.5" y="516.8" font-size="11" fill="#4a4a4a" font-weight="normal" text-anchor="middle">14</text>
<path d="M26.5,503v3M181.5,503v3M282.5,503v3M437.5,503v3M538.5,503v3M620.5,503v3M721.5,503v3M858.5,503v3M995.5,503v3M1114.5,503v3" stroke="#4d4d4d" stroke-width="1"/>
<text x="6.5" y="544.7" font-size="13.5" fill="#0e0e0e" font-weight="normal" text-anchor="start" textLength="72.0" lengthAdjust="spacingAndGlyphs">Created with</text>
<g transform="translate(0,0)"><path d="M91,546 C87.5,546 87.5,539 91.5,538.5 C92.5,534 95,531.6 99.5,531.6 C103,531.6 105,533.5 106,536 C110,536 112,539 111.6,542 C111.4,544.5 110,546 107.5,546 Z" fill="#52bce8"/><path d="M88.5,543.8L96.6,537.2L101.9,544.2L108.4,536.6" fill="none" stroke="#ffffff" stroke-width="1.5" stroke-linejoin="miter"/></g>
<text x="118.9" y="544.7" font-size="13.5" fill="#46ace2" font-weight="normal" text-anchor="start" textLength="69.6" lengthAdjust="spacingAndGlyphs">TradingView</text>
</svg></body></html>
